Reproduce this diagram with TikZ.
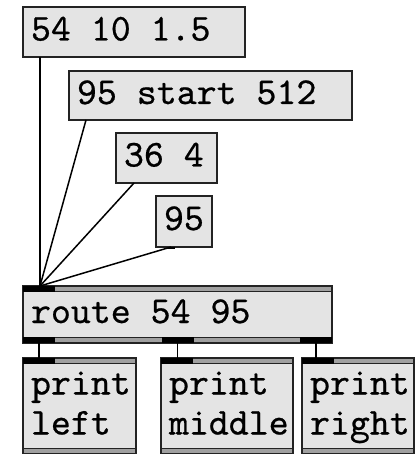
\documentclass[tikz,border=0pt]{standalone}
\usepackage{fontspec}
\newfontfamily\pdmono{lmmono10-regular}[Extension=.otf, FakeBold=0.6]
\usepackage{tikz}
\usetikzlibrary{calc, positioning}

\definecolor{boxfill}{RGB}{228,228,228}
\definecolor{boxline}{RGB}{35,35,35}
\definecolor{bargray}{RGB}{160,160,160}

\begin{document}
\begin{tikzpicture}[
    x=1pt, y=-1pt,
    every node/.style={font=\fontsize{38}{40}\selectfont\pdmono},
    msg/.style={
        rectangle, draw=boxline, fill=boxfill, line width=2.5pt,
        anchor=north west, inner xsep=8pt, inner ysep=0pt, outer sep=0pt,
        align=left, text height=25pt, text depth=8pt,
        execute at begin node={\spaceskip=0pt\xspaceskip=0pt}
    },
    obj/.style={
        msg,
        path picture={
            % inlet bar on top, outlet bar at the bottom
            \fill[bargray] (path picture bounding box.north west) rectangle
                ([yshift=-5pt]path picture bounding box.north east);
            \draw[boxline, line width=1.5pt] ([yshift=-5.5pt]path picture bounding box.north west)
                -- ([yshift=-5.5pt]path picture bounding box.north east);
            \fill[bargray] (path picture bounding box.south west) rectangle
                ([yshift=5pt]path picture bounding box.south east);
            \draw[boxline, line width=1.5pt] ([yshift=5.5pt]path picture bounding box.south west)
                -- ([yshift=5.5pt]path picture bounding box.south east);
        }
    },
    port/.style={fill=black},
    wire/.style={draw=black, line width=1.5pt},
]
\useasboundingbox (0,0) rectangle (415,454);

% Message boxes
\node[msg, text width=206pt, minimum height=50pt] (m54) at (23,7) {54 10 1.5};
\node[msg, text width=267pt, minimum height=49pt] (m95start) at (69,71) {95 start 512};
\node[msg, text width=85pt, minimum height=50pt] (m364) at (116,133) {36 4};
\node[msg, text width=40pt, minimum height=51pt] (m95) at (156,196) {95};

% route object
\node[obj, text width=293pt, minimum height=57pt] (route) at (23,286) {route 54 95};

% print objects
\node[obj, text width=97pt, minimum height=96pt, text depth=48pt] (pleft) at (23,358) {print\\left};
\node[obj, text width=116pt, minimum height=96pt, text depth=48pt] (pmiddle) at (161,358) {print\\middle};
\node[obj, text width=96pt, minimum height=96pt, text depth=48pt] (pright) at (302,358) {print\\right};

% Outlets and inlets
\coordinate (route-in) at ([xshift=17pt]route.north west);
\coordinate (route-out1) at ([xshift=16pt]route.south west);
\coordinate (route-out2) at ([xshift=154.5pt]route.south west);
\coordinate (route-out3) at ([xshift=293pt]route.south west);

% Wires into route
\draw[wire] ([xshift=17pt]m54.south west) -- (route-in);
\draw[wire] ([xshift=17pt]m95start.south west) -- (route-in);
\draw[wire] ([xshift=18pt]m364.south west) -- (route-in);
\draw[wire] ([xshift=15pt]m95.south west) -- (route-in);

% Wires out of route
\draw[wire] (route-out1) -- (route-out1 |- pleft.north);
\draw[wire] (route-out2) -- (route-out2 |- pmiddle.north);
\draw[wire] (route-out3) -- (route-out3 |- pright.north);

% Port marks
\fill[port] ([xshift=12pt]m95.south west) rectangle ++(7,2);
\fill[port] (route.north west) rectangle ++(32,6);
\foreach \ox in {0, 138.5, 277}
    \fill[port] ([xshift=\ox pt]route.south west) rectangle ++(32,-6);
\foreach \pname in {pleft, pmiddle, pright}
    \fill[port] (\pname.north west) rectangle ++(32,6);

\end{tikzpicture}
\end{document}
